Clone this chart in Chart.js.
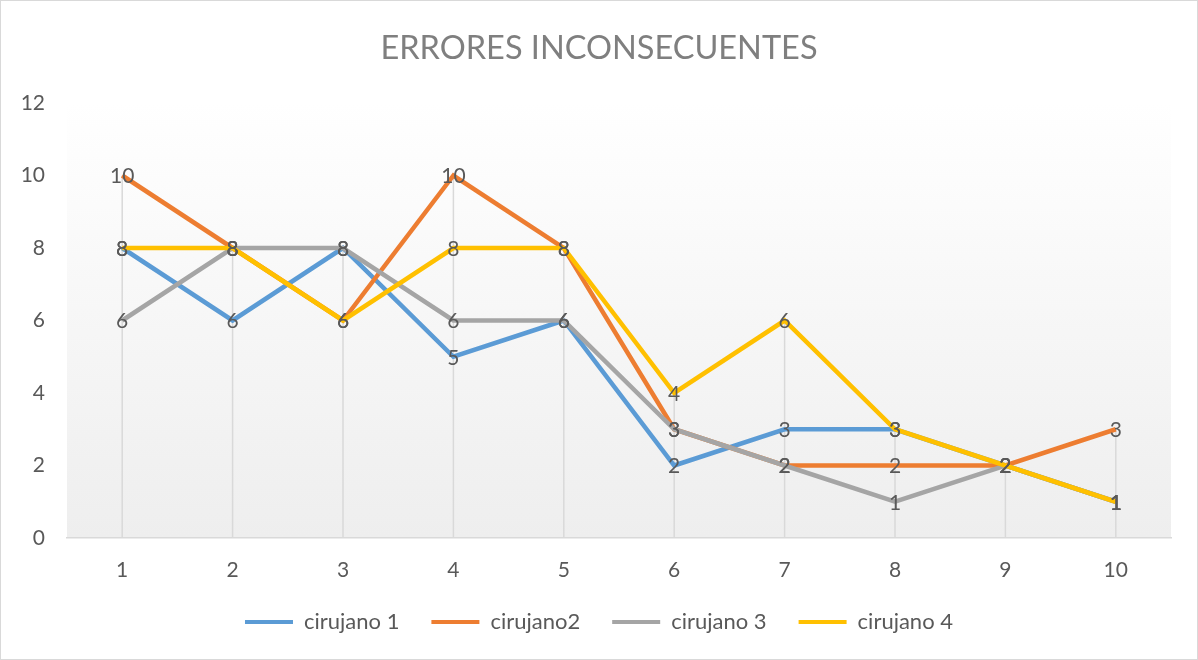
<!DOCTYPE html>
<html>
<head>
<meta charset="utf-8">
<script src="https://cdn.jsdelivr.net/npm/chart.js@4/dist/chart.umd.min.js"></script>
<style>
html,body{margin:0;padding:0;background:#fff;}
#wrap{width:1198px;height:660px;box-sizing:border-box;border:1px solid #d9d9d9;position:relative;}
canvas{display:block;}
</style>
</head>
<body>
<div id="wrap"><canvas id="c" width="1196" height="658"></canvas></div>
<script>
const categories = ['1','2','3','4','5','6','7','8','9','10'];
const cirujano1 = [8, 6, 8, 5, 6, 2, 3, 3, 2, 1];
const cirujano2 = [10, 8, 6, 10, 8, 3, 2, 2, 2, 3];
const cirujano3 = [6, 8, 8, 6, 6, 3, 2, 1, 2, 1];
const cirujano4 = [8, 8, 6, 8, 8, 4, 6, 3, 2, 1];
const seriesNames = ['cirujano 1', 'cirujano2', 'cirujano 3', 'cirujano 4'];
const colors = ['#5b9bd5', '#ed7d31', '#a5a5a5', '#ffc000'];
const FONT = 'Lato, "Open Sans", sans-serif';
const LABEL_COLOR = '#595959';

const bgPlugin = {
  id: 'bgGrad',
  beforeDraw(chart) {
    const {ctx, chartArea: a} = chart;
    const g = ctx.createLinearGradient(0, a.top, 0, a.bottom);
    g.addColorStop(0, '#ffffff');
    g.addColorStop(1, '#eeeeee');
    ctx.save();
    ctx.fillStyle = g;
    ctx.fillRect(a.left, a.top, a.right - a.left, a.bottom - a.top);
    ctx.restore();
  }
};

const dropLines = {
  id: 'dropLines',
  beforeDatasetsDraw(chart) {
    const {ctx, scales: {x, y}} = chart;
    ctx.save();
    ctx.strokeStyle = '#d9d9d9';
    ctx.lineWidth = 1.5;
    categories.forEach((c, i) => {
      const vals = chart.data.datasets.map(d => d.data[i]);
      const mx = Math.max(...vals);
      const px = x.getPixelForValue(i);
      ctx.beginPath();
      ctx.moveTo(px, y.getPixelForValue(mx));
      ctx.lineTo(px, y.getPixelForValue(0));
      ctx.stroke();
    });
    ctx.restore();
  }
};

const dataLabels = {
  id: 'dataLabels',
  afterDatasetsDraw(chart) {
    const {ctx} = chart;
    ctx.save();
    ctx.font = '21px ' + FONT;
    ctx.fillStyle = LABEL_COLOR;
    ctx.textAlign = 'center';
    ctx.textBaseline = 'middle';
    chart.data.datasets.forEach((ds, di) => {
      const meta = chart.getDatasetMeta(di);
      meta.data.forEach((el, i) => {
        ctx.fillText(String(ds.data[i]), el.x, el.y + 1);
      });
    });
    ctx.restore();
  }
};

const allSeries = [cirujano1, cirujano2, cirujano3, cirujano4];

new Chart(document.getElementById('c'), {
  type: 'line',
  data: {
    labels: categories,
    datasets: allSeries.map((d, i) => ({
      label: seriesNames[i],
      data: d,
      order: allSeries.length - i,
      borderColor: colors[i],
      backgroundColor: colors[i],
      borderWidth: 4.5,
      pointRadius: 0,
      pointHoverRadius: 0,
      tension: 0,
      fill: false,
      yAxisID: 'y'
    }))
  },
  options: {
    responsive: false,
    animation: false,
    events: [],
    layout: {padding: {left: 0, right: 0, top: 0, bottom: 16}},
    plugins: {
      title: {
        display: true,
        text: 'ERRORES INCONSECUENTES',
        color: '#7f7f7f',
        font: {family: FONT, size: 32.5, weight: 'normal'},
        padding: {top: 28, bottom: 35}
      },
      legend: {
        position: 'bottom',
        labels: {
          color: LABEL_COLOR,
          font: {family: FONT, size: 22},
          boxWidth: 48,
          boxHeight: 4,
          padding: 32,
          generateLabels(chart) {
            return chart.data.datasets.map((ds, i) => ({
              text: ds.label,
              fillStyle: ds.borderColor,
              strokeStyle: ds.borderColor,
              lineWidth: 0,
              fontColor: LABEL_COLOR,
              datasetIndex: i,
              hidden: false
            }));
          }
        }
      },
      tooltip: {enabled: false}
    },
    scales: {
      x: {
        offset: true,
        grid: {display: true, drawOnChartArea: false, drawTicks: false},
        border: {display: true, color: '#d9d9d9', width: 1.5},
        ticks: {color: LABEL_COLOR, font: {family: FONT, size: 21}, padding: 20},
        afterFit(s) { s.height = 41; }
      },
      y: {
        min: 0, max: 12,
        grid: {display: false, drawTicks: false},
        border: {display: false},
        ticks: {stepSize: 2, color: LABEL_COLOR, font: {family: FONT, size: 21}, padding: 22},
        afterFit(s) { s.width = 66; }
      },
      yRight: {
        position: 'right',
        min: 0, max: 12,
        grid: {display: false, drawTicks: false},
        border: {display: false},
        ticks: {display: false},
        afterFit(s) { s.width = 26; }
      }
    }
  },
  plugins: [bgPlugin, dropLines, dataLabels]
});
</script>
</body>
</html>
